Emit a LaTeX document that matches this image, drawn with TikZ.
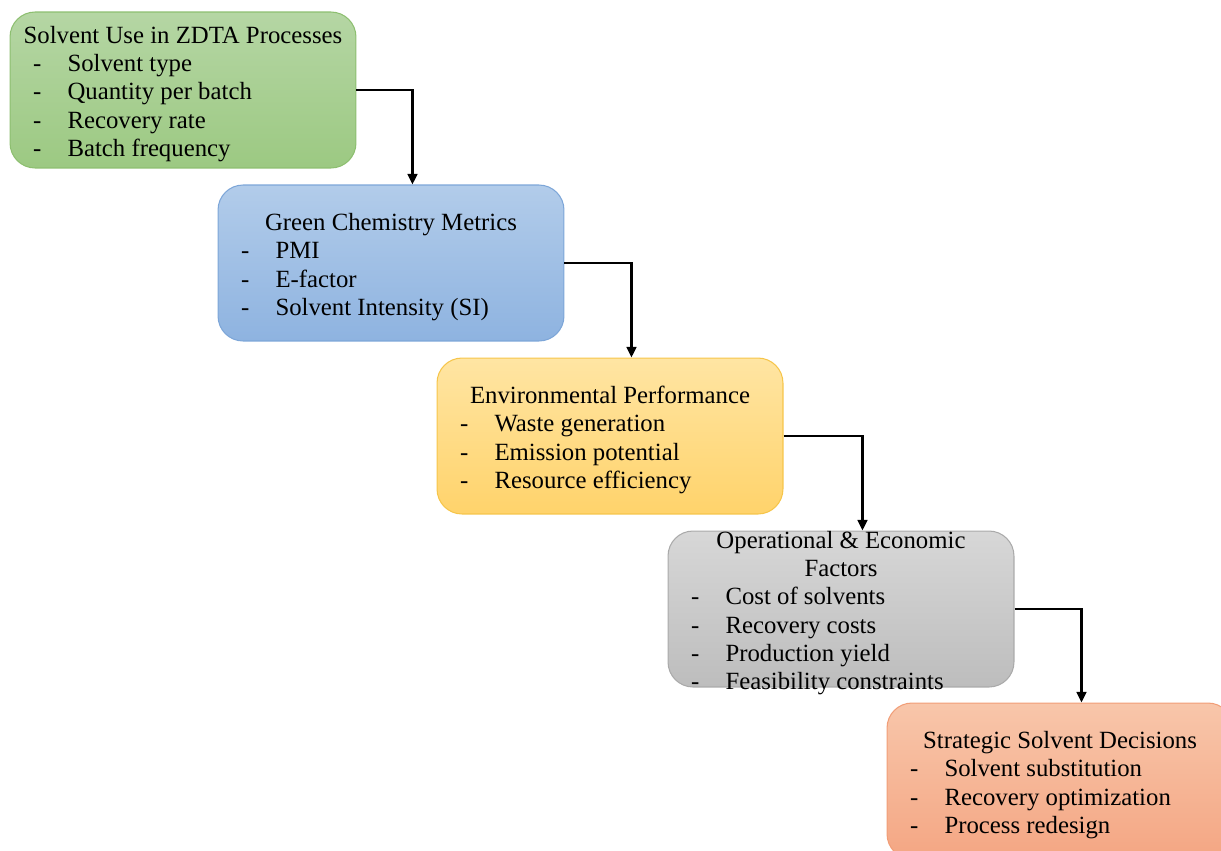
\documentclass[tikz,border=0pt]{standalone}
\usepackage{fontspec}
\setmainfont{Liberation Serif}
\usetikzlibrary{arrows.meta}

\definecolor{greentop}{HTML}{B5D6A4}
\definecolor{greenbot}{HTML}{9CC982}
\definecolor{greenline}{HTML}{8DBF70}
\definecolor{bluetop}{HTML}{B2CCEA}
\definecolor{bluebot}{HTML}{8EB3E0}
\definecolor{blueline}{HTML}{7DA6D8}
\definecolor{yellowtop}{HTML}{FFE5A3}
\definecolor{yellowbot}{HTML}{FFD36B}
\definecolor{yellowline}{HTML}{F6C54A}
\definecolor{graytop}{HTML}{D7D7D7}
\definecolor{graybot}{HTML}{BDBDBD}
\definecolor{grayline}{HTML}{AAAAAA}
\definecolor{orangetop}{HTML}{F8C6AA}
\definecolor{orangebot}{HTML}{F4A683}
\definecolor{orangeline}{HTML}{F19E78}

\tikzset{
  card/.style={rounded corners=0.5cm, minimum width=6.92cm, minimum height=3.12cm,
    inner xsep=0.46cm, inner ysep=0.11cm, line width=0.6pt,
    font=\fontsize{14.1}{16.1}\selectfont},
  flow/.style={-{Triangle[length=6pt,width=5.5pt]}, line width=1.4pt},
}
\newcommand{\cardbody}[1]{\parbox[c][2.9cm][c]{6cm}{\vspace*{0.16cm}\raggedright #1}}
\newcommand{\hd}[1]{\makebox[\linewidth][c]{#1}}
\newcommand{\itm}[1]{\makebox[0.69cm][l]{-}#1}

\begin{document}
\begin{tikzpicture}[x=0.02cm, y=-0.02cm]
  \useasboundingbox (0,0) rectangle (1221,850);

  % the five stages
  \node[card, top color=greentop, bottom color=greenbot, draw=greenline] (solvent) at (183,90)
    {\cardbody{\hd{Solvent Use in ZDTA Processes}\\ \itm{Solvent type}\\ \itm{Quantity per batch}\\ \itm{Recovery rate}\\ \itm{Batch frequency}}};
  \node[card, top color=bluetop, bottom color=bluebot, draw=blueline] (metrics) at (391,263)
    {\cardbody{\hd{Green Chemistry Metrics}\\ \itm{PMI}\\ \itm{E-factor}\\ \itm{Solvent Intensity (SI)}}};
  \node[card, top color=yellowtop, bottom color=yellowbot, draw=yellowline] (envperf) at (610,436)
    {\cardbody{\hd{Environmental Performance}\\ \itm{Waste generation}\\ \itm{Emission potential}\\ \itm{Resource efficiency}}};
  \node[card, top color=graytop, bottom color=graybot, draw=grayline] (opecon) at (841,609)
    {\cardbody{\hd{Operational \& Economic}\\ \hd{Factors}\\ \itm{Cost of solvents}\\ \itm{Recovery costs}\\ \itm{Production yield}\\ \itm{Feasibility constraints}}};
  \node[card, top color=orangetop, bottom color=orangebot, draw=orangeline] (decisions) at (1060,781)
    {\cardbody{\hd{Strategic Solvent Decisions}\\ \itm{Solvent substitution}\\ \itm{Recovery optimization}\\ \itm{Process redesign}}};

  % elbow arrows
  \draw[flow] (solvent.east) -| ([xshift=3.9cm]metrics.north west);
  \draw[flow] (metrics.east) -| ([xshift=3.9cm]envperf.north west);
  \draw[flow] (envperf.east) -| ([xshift=3.9cm]opecon.north west);
  \draw[flow] (opecon.east) -| ([xshift=3.9cm]decisions.north west);
\end{tikzpicture}
\end{document}
